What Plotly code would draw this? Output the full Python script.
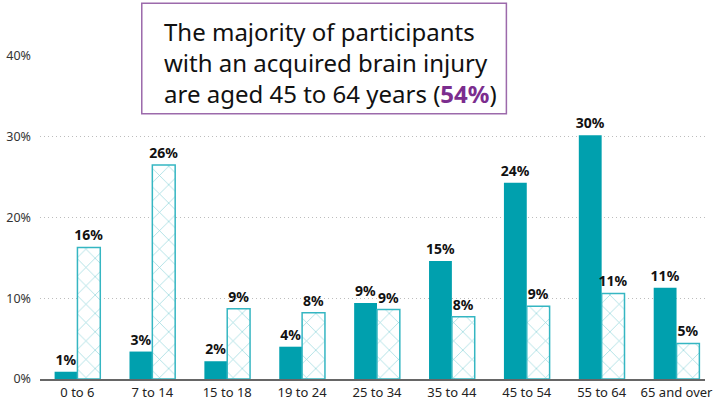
import plotly.graph_objects as go

categories = ["0 to 6", "7 to 14", "15 to 18", "19 to 24", "25 to 34",
              "35 to 44", "45 to 54", "55 to 64", "65 and over"]
abi_values = [0.9, 3.4, 2.2, 4.0, 9.4, 14.6, 24.3, 30.2, 11.3]
abi_labels = ["1%", "3%", "2%", "4%", "9%", "15%", "24%", "30%", "11%"]
all_values = [16.3, 26.5, 8.7, 8.2, 8.6, 7.7, 9.0, 10.6, 4.4]
all_labels = ["16%", "26%", "9%", "8%", "9%", "8%", "9%", "11%", "5%"]
y_ticks = [0, 10, 20, 30, 40]
y_tick_labels = ["0%", "10%", "20%", "30%", "40%"]

TEAL = "#00A0AE"
TEAL_LIGHT = "#35B6C2"
PURPLE = "#7B2D8E"
FONT = "Noto Sans"

fig = go.Figure()
fig.add_trace(go.Bar(
    x=categories, y=abi_values, text=abi_labels,
    textposition="outside", cliponaxis=False, constraintext="none",
    textfont=dict(family=FONT, size=14, color="#111", weight="bold"),
    marker=dict(color=TEAL, line=dict(width=0)),
    showlegend=False, hoverinfo="skip",
))
fig.add_trace(go.Bar(
    x=categories, y=all_values, text=all_labels,
    textposition="outside", cliponaxis=False, constraintext="none",
    textfont=dict(family=FONT, size=14, color="#111", weight="bold"),
    marker=dict(color="white", line=dict(width=1.5, color=TEAL_LIGHT),
                pattern=dict(shape="x", fgcolor="#1FAAB7", bgcolor="white",
                             size=13, solidity=0.1)),
    showlegend=False, hoverinfo="skip",
))

# plot area: x 40..713, y 56..380 (px)
fig.update_layout(
    width=713, height=401,
    margin=dict(l=40, r=0, t=56, b=21),
    paper_bgcolor="white", plot_bgcolor="white",
    barmode="group", bargap=0.39, bargroupgap=0,
    font=dict(family=FONT, color="#222"),
    xaxis=dict(range=[-0.5, 8.38], showgrid=False, ticks="",
               showline=True, linecolor="#666", linewidth=2,
               tickfont=dict(size=13, color="#222")),
    yaxis=dict(range=[0, 40], tickvals=y_ticks, ticktext=y_tick_labels,
               showgrid=True, gridcolor="#bdbdbd", griddash="1px,3px",
               gridwidth=1, zeroline=False, showline=False, ticks="",
               ticklabelstandoff=8,
               tickfont=dict(size=12.5, color="#333")),
    shapes=[dict(
        type="rect", xref="paper", yref="paper",
        x0=(143 - 40) / 673, x1=(512 - 40) / 673,
        y0=(380 - 114) / 324, y1=(380 - 3) / 324,
        line=dict(color="#9C6AAB", width=1.5), fillcolor="white", layer="above",
    )],
    annotations=[dict(
        xref="paper", yref="paper", x=(163 - 40) / 673, y=(380 - 63) / 324,
        xanchor="left", yanchor="middle", align="left",
        text=("The majority of participants<br>with an acquired brain injury<br>"
              "are aged 45 to 64 years (<span style='color:%s'><b>54%%</b></span>)" % PURPLE),
        font=dict(family=FONT, size=24, color="#111"),
        showarrow=False,
    )],
)

fig.write_html("out.html", config={"displayModeBar": False},
               post_script="document.body.style.margin='0';")
